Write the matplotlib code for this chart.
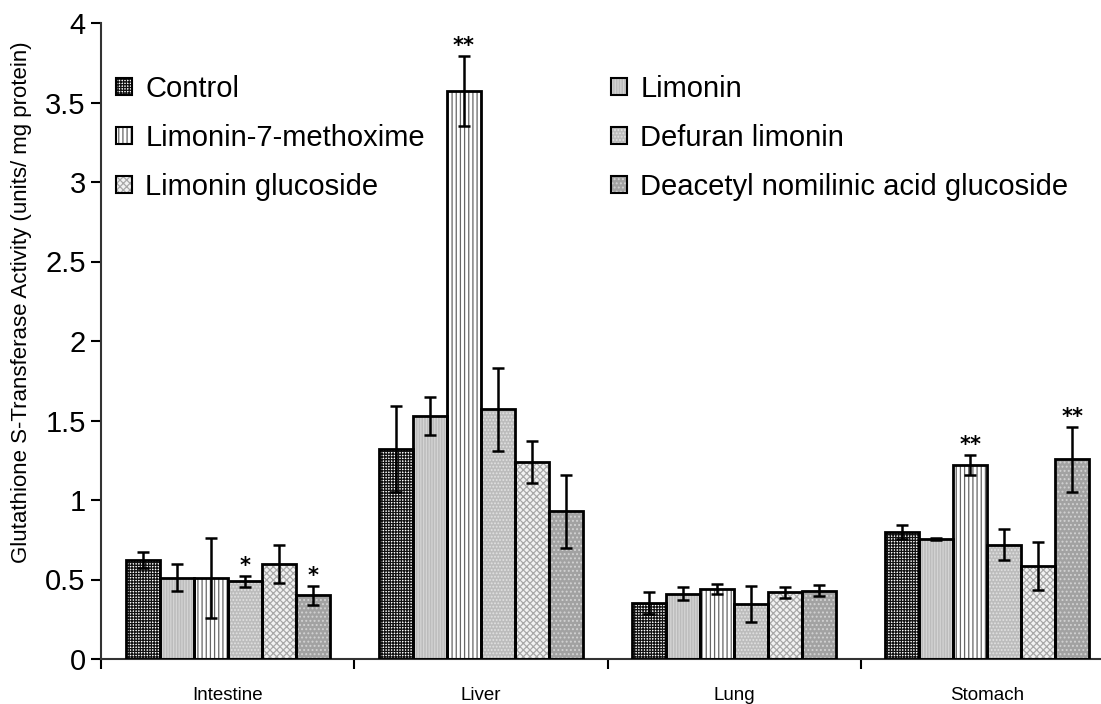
import numpy as np
import matplotlib
matplotlib.use("Agg")
import matplotlib.pyplot as plt
from matplotlib.patches import Patch
from matplotlib.legend_handler import HandlerTuple

plt.rcParams['font.family'] = ['Liberation Sans', 'DejaVu Sans']
plt.rcParams['hatch.linewidth'] = 0.9

tissues = ["Intestine", "Liver", "Lung", "Stomach"]
treatments = ["Control", "Limonin", "Limonin-7-methoxime",
              "Defuran limonin", "Limonin glucoside",
              "Deacetyl nomilinic acid glucoside"]

# GST activity (units/mg protein), one list per treatment, in tissue order
control = [0.62, 1.32, 0.35, 0.80]
limonin = [0.51, 1.53, 0.41, 0.755]
methoxime = [0.51, 3.57, 0.44, 1.22]
defuran = [0.49, 1.57, 0.345, 0.72]
lim_glucoside = [0.60, 1.24, 0.42, 0.585]
dna_glucoside = [0.40, 0.93, 0.43, 1.255]

control_err = [0.05, 0.27, 0.07, 0.045]
limonin_err = [0.085, 0.12, 0.04, 0.006]
methoxime_err = [0.25, 0.22, 0.03, 0.06]
defuran_err = [0.035, 0.26, 0.115, 0.10]
lim_glucoside_err = [0.12, 0.13, 0.035, 0.15]
dna_glucoside_err = [0.06, 0.23, 0.035, 0.205]

# significance marks: (treatment index, tissue index, label)
signif = [(3, 0, "*"), (5, 0, "*"), (2, 1, "**"), (2, 3, "**"), (5, 3, "**")]

means = [control, limonin, methoxime, defuran, lim_glucoside, dna_glucoside]
errs = [control_err, limonin_err, methoxime_err, defuran_err,
        lim_glucoside_err, dna_glucoside_err]

# fill colour, hatch, hatch colour for each treatment
styles = [
    ("white", "++++++", "#111111"),
    ("#bcbcbc", "||||||", "#d4d4d4"),
    ("white", "||||", "#666666"),
    ("#bcbcbc", ".....", "#e2e2e2"),
    ("#f2f2f2", "xxxxx", "#a8a8a8"),
    ("#a2a2a2", "....", "#d2d2d2"),
]

fig = plt.figure(figsize=(11.01, 7.04), dpi=100)
ax = fig.add_axes([101 / 1101, 45 / 704, 1013 / 1101, 636 / 704])

x = np.arange(len(tissues))
width = 0.1343
handles = []
for i, (vals, err) in enumerate(zip(means, errs)):
    face, hatch, hcol = styles[i]
    pos = x + (i - 2.5) * width
    ax.bar(pos, vals, width, color=face, hatch=hatch, edgecolor=hcol,
           linewidth=0, zorder=2)
    ax.bar(pos, vals, width, fill=False, edgecolor="black", linewidth=2,
           zorder=3)
    ax.errorbar(pos, vals, yerr=err, fmt="none", ecolor="black",
                elinewidth=1.8, capsize=4.5, capthick=1.8, zorder=4)
    h1 = Patch(facecolor=face, hatch=hatch, edgecolor=hcol, linewidth=0)
    h2 = Patch(fill=False, edgecolor="black", linewidth=1.5)
    handles.append((h1, h2))

for ti, gi, mark in signif:
    xp = x[gi] + (ti - 2.5) * width
    yp = means[ti][gi] + errs[ti][gi]
    ax.annotate(mark, (xp, yp), xytext=(0, 0), textcoords="offset points",
                ha="center", va="bottom", fontsize=15, fontweight="bold",
                family="DejaVu Sans")

ax.set_xlim(-0.5, 3.5)
ax.set_ylim(0, 4)
ax.set_yticks(np.arange(0, 4.01, 0.5))
ax.set_yticklabels(["0", "0.5", "1", "1.5", "2", "2.5", "3", "3.5", "4"])
ax.set_xticks(x)
ax.set_xticklabels(tissues, fontsize=13.5)
ax.set_xticks(np.arange(-0.5, 3.6, 1), minor=True)
ax.tick_params(axis="x", which="major", length=0, pad=20)
ax.tick_params(axis="x", which="minor", length=7, width=1.5, direction="out")
ax.tick_params(axis="y", length=7, width=1.5, labelsize=21, pad=4)
for s in ["top", "right"]:
    ax.spines[s].set_visible(False)
for s in ["left", "bottom"]:
    ax.spines[s].set_linewidth(1.5)
    ax.spines[s].set_color("#333333")

fig.text(22 / 1101, 1 - 302 / 704,
         "Glutathione S-Transferase Activity (units/ mg protein)",
         rotation=90, ha="center", va="center", fontsize=16)

# two-column legend in the original fill order
legend_kw = dict(frameon=False, fontsize=21, handlelength=0.55,
                 handleheight=0.55, handletextpad=0.45, labelspacing=0.72,
                 borderpad=0, borderaxespad=0, loc="upper left",
                 bbox_transform=fig.transFigure,
                 handler_map={tuple: HandlerTuple(ndivide=1, pad=0)})
leg1 = ax.legend([handles[0], handles[2], handles[4]],
                 [treatments[0], treatments[2], treatments[4]],
                 bbox_to_anchor=(116 / 1101, 1 - 75 / 704), **legend_kw)
ax.add_artist(leg1)
ax.legend([handles[1], handles[3], handles[5]],
          [treatments[1], treatments[3], treatments[5]],
          bbox_to_anchor=(611 / 1101, 1 - 75 / 704), **legend_kw)

fig.savefig("out.png", dpi=100)
